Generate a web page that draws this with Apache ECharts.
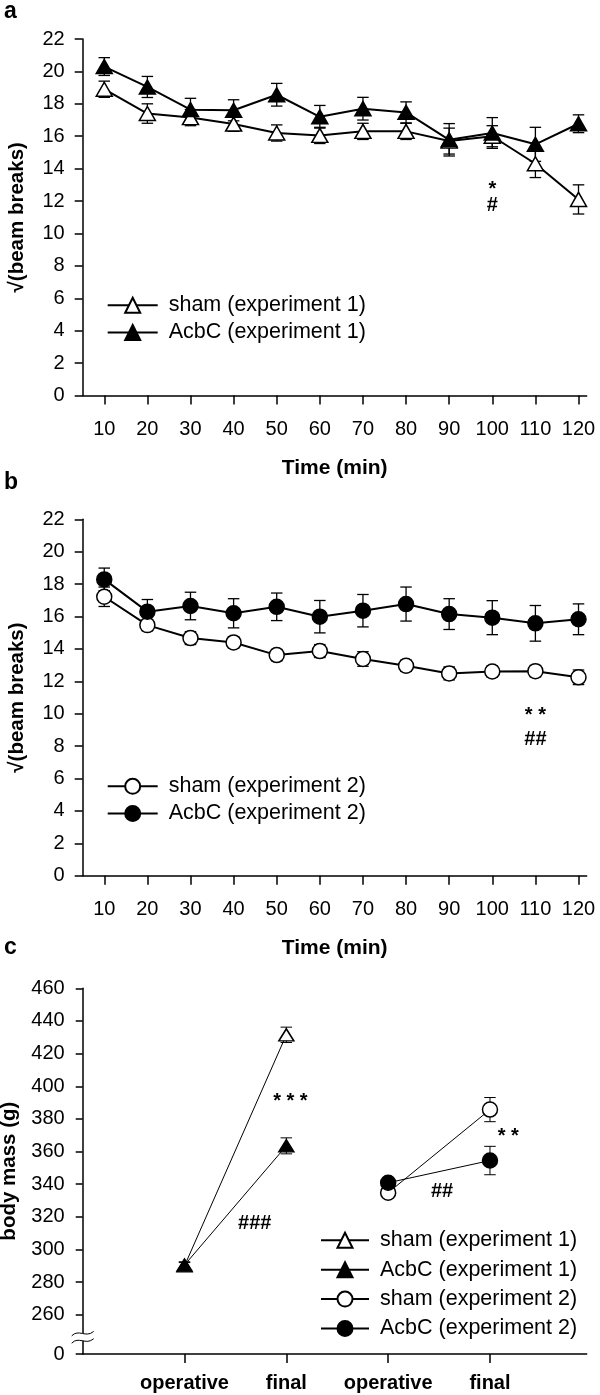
<!DOCTYPE html>
<html><head><meta charset="utf-8">
<script src="https://cdn.jsdelivr.net/npm/echarts@6/dist/echarts.min.js"></script>
<style>
html,body{margin:0;padding:0;background:#fff;}
body{width:600px;height:1395px;position:relative;overflow:hidden;}
.p{position:absolute;left:0;width:600px;}
</style></head><body>
<div id="pa" class="p" style="top:0;height:500px"></div>
<div id="pb" class="p" style="top:465px;height:510px"></div>
<div id="pc" class="p" style="top:930px;height:465px"></div>
<script>
// ---------- data ----------
const timeMin = [10, 20, 30, 40, 50, 60, 70, 80, 90, 100, 110, 120];

// panel a (experiment 1)
const shamExp1 = [18.9, 17.4, 17.15, 16.75, 16.2, 16.05, 16.3, 16.3, 15.7, 16.0, 14.3, 12.1];
const shamExp1Err = [0.5, 0.6, 0.5, 0.45, 0.5, 0.5, 0.5, 0.5, 0.8, 0.65, 0.85, 0.9];
const acbcExp1 = [20.3, 19.04, 17.64, 17.6, 18.56, 17.2, 17.7, 17.47, 15.78, 16.2, 15.5, 16.77];
const acbcExp1Err = [0.55, 0.65, 0.7, 0.65, 0.7, 0.7, 0.7, 0.65, 1.0, 0.95, 1.05, 0.55];
const annA_x = [100, 100];
const annA_y = [13.0, 11.7];
const annA_t = ['*', '#'];

// panel b (experiment 2)
const shamExp2 = [17.22, 15.47, 14.67, 14.4, 13.62, 13.87, 13.38, 12.96, 12.49, 12.61, 12.63, 12.25];
const shamExp2Err = [0.6, 0.35, 0.4, 0.35, 0.35, 0.4, 0.45, 0.35, 0.4, 0.35, 0.35, 0.45];
const acbcExp2 = [18.29, 16.3, 16.65, 16.2, 16.6, 15.99, 16.36, 16.77, 16.15, 15.93, 15.58, 15.83];
const acbcExp2Err = [0.7, 0.75, 0.85, 0.9, 0.85, 1.0, 1.0, 1.05, 0.95, 1.05, 1.1, 0.95];
const annB_x = [110, 110];
const annB_y = [10.2, 8.4];
const annB_t = ['* *', '##'];

// panel c (body mass)
const massCats = ['operative', 'final', 'operative', 'final'];
const massPosExp1 = [1, 2];
const massPosExp2 = [3, 4];
const massShamExp1 = [290, 431.5];
const massShamExp1Err = [2, 4.7];
const massAcbcExp1 = [290.5, 363.5];
const massAcbcExp1Err = [2, 4.9];
const massShamExp2 = [334.8, 385.7];
const massShamExp2Err = [1.5, 7.4];
const massAcbcExp2 = [340.9, 354.5];
const massAcbcExp2Err = [1.5, 8.7];
const massTicks = [236, 260, 280, 300, 320, 340, 360, 380, 400, 420, 440, 460];
const massBreakLabel = '0';
const annC_x = [2.04, 4.18, 1.69, 3.53];
const annC_y = [393.2, 371.8, 316, 335.8];
const annC_t = ['* * *', '* *', '###', '##'];

const seriesNames = ['sham (experiment 1)', 'AcbC (experiment 1)', 'sham (experiment 2)', 'AcbC (experiment 2)'];

// ---------- helpers ----------
const FONT = '"Liberation Sans", Arial, Helvetica, sans-serif';
const BLACK = '#000';

function errRender(hw, lw) {
  return function (params, api) {
    const x = api.value(0), m = api.value(1), e = api.value(2);
    const t = api.coord([x, m + e]), b = api.coord([x, m - e]);
    const st = { stroke: BLACK, lineWidth: lw };
    return { type: 'group', children: [
      { type: 'line', shape: { x1: t[0], y1: t[1], x2: b[0], y2: b[1] }, style: st },
      { type: 'line', shape: { x1: t[0] - hw, y1: t[1], x2: t[0] + hw, y2: t[1] }, style: st },
      { type: 'line', shape: { x1: b[0] - hw, y1: b[1], x2: b[0] + hw, y2: b[1] }, style: st }
    ]};
  };
}
function annSeries(xs, ys, ts) {
  return {
    type: 'custom', name: 'annotations', silent: true, z: 10,
    data: xs.map((x, i) => [x, ys[i]]),
    renderItem: function (params, api) {
      const p = api.coord([api.value(0), api.value(1)]);
      const txt = ts[params.dataIndex];
      const dy = txt.indexOf('*') >= 0 ? 4.5 : 0;
      return { type: 'text', x: p[0], y: p[1] + dy,
        style: { text: txt, font: 'bold 20px ' + FONT, fill: BLACK, align: 'center', verticalAlign: 'middle' } };
    }
  };
}
function errSeries(name, xs, means, errs, hw, lw) {
  return { type: 'custom', name: name, silent: true, z: 1,
    data: xs.map((x, i) => [x, means[i], errs[i]]),
    renderItem: errRender(hw, lw) };
}
function lineSeries(name, xs, vals, symbol, size, filled, lw, z) {
  return { type: 'line', name: name, data: xs.map((x, i) => [x, vals[i]]),
    symbol: symbol, symbolSize: size, showSymbol: true, z: z,
    lineStyle: { color: BLACK, width: lw },
    itemStyle: { color: filled ? BLACK : '#fff', borderColor: BLACK, borderWidth: 1.5 },
    emphasis: { disabled: true } };
}
function letterTitle(t, top) {
  return { text: t, left: 4, top: top, padding: 0,
    textStyle: { fontSize: 23, fontWeight: 'bold', color: BLACK, fontFamily: FONT } };
}
const axisLineStyle = { color: BLACK, width: 1.5 };
function legendCfg(names, left, top, itemWidth, gap) {
  return { data: names, orient: 'vertical', left: left, top: top, padding: 0,
    itemWidth: itemWidth, itemHeight: 18.75, itemGap: gap, selectedMode: false,
    formatter: n => ' ' + n,
    textStyle: { fontSize: 21.5, color: BLACK, fontFamily: FONT } };
}

function timePanel(domId, gridTop, letter, letterTop, names, data, symbols, sizes, ann, legendTop) {
  const chart = echarts.init(document.getElementById(domId));
  const series = [];
  data.forEach((d, i) => series.push(errSeries('err' + i, timeMin, d[0], d[1], 5.75, 1.3)));
  data.forEach((d, i) => series.push(lineSeries(names[i], timeMin, d[0], symbols[i], sizes[i], i === 1, 2, 3 + i)));
  series.push(annSeries(ann[0], ann[1], ann[2]));
  chart.setOption({
    animation: false,
    backgroundColor: 'transparent',
    title: letterTitle(letter, letterTop),
    grid: { left: 82.7, top: gridTop, width: 504, height: 356.5, outerBoundsMode: 'none', containLabel: false },
    legend: legendCfg(names, 106.7, legendTop, 50, 5.2),
    xAxis: {
      type: 'value', min: 5, max: 121.9,
      axisLine: { show: true, onZero: false, lineStyle: axisLineStyle },
      axisTick: { show: true, customValues: timeMin, length: 9, lineStyle: axisLineStyle },
      axisLabel: { customValues: timeMin, margin: 24, fontSize: 20, color: BLACK, fontFamily: FONT },
      splitLine: { show: false },
      name: 'Time (min)', nameLocation: 'middle', nameGap: 62,
      nameTextStyle: { fontSize: 21, fontWeight: 'bold', color: BLACK, fontFamily: FONT }
    },
    yAxis: {
      type: 'value', min: 0, max: 22, interval: 2,
      axisLine: { show: true, lineStyle: axisLineStyle },
      axisTick: { show: true, length: 8, lineStyle: axisLineStyle },
      axisLabel: { margin: 18, fontSize: 20, color: BLACK, fontFamily: FONT },
      splitLine: { show: false },
      name: '\u221A(beam breaks)', nameLocation: 'middle', nameGap: 55,
      nameTextStyle: { fontSize: 20.5, fontWeight: 'bold', color: BLACK, fontFamily: FONT }
    },
    series: series
  });
  return chart;
}

timePanel('pa', 39, 'a', 0, [seriesNames[0], seriesNames[1]],
  [[shamExp1, shamExp1Err], [acbcExp1, acbcExp1Err]],
  ['triangle', 'triangle'], [[16, 14], [16, 14]], [annA_x, annA_y, annA_t], 294.2);

timePanel('pb', 54.3, 'b', 6, [seriesNames[2], seriesNames[3]],
  [[shamExp2, shamExp2Err], [acbcExp2, acbcExp2Err]],
  ['circle', 'circle'], [15, 15], [annB_x, annB_y, annB_t], 310.3);

// ---------- panel c ----------
const chartC = echarts.init(document.getElementById('pc'));
const cMin = massTicks[0];
const cSeries = [
  errSeries('e1', massPosExp1, massShamExp1, massShamExp1Err, 5.75, 1),
  errSeries('e2', massPosExp1, massAcbcExp1, massAcbcExp1Err, 5.75, 1),
  errSeries('e3', massPosExp2, massShamExp2, massShamExp2Err, 5.75, 1),
  errSeries('e4', massPosExp2, massAcbcExp2, massAcbcExp2Err, 5.75, 1),
  lineSeries(seriesNames[0], massPosExp1, massShamExp1, 'triangle', [15, 12], false, 1, 3),
  lineSeries(seriesNames[1], massPosExp1, massAcbcExp1, 'triangle', [15, 12], true, 1, 4),
  lineSeries(seriesNames[2], massPosExp2, massShamExp2, 'circle', 15, false, 1, 5),
  lineSeries(seriesNames[3], massPosExp2, massAcbcExp2, 'circle', 15, true, 1, 6),
  annSeries(annC_x, annC_y, annC_t)
];
const catPos = massCats.map((c, i) => i + 1);
chartC.setOption({
  animation: false,
  backgroundColor: 'transparent',
  title: letterTitle('c', 6),
  grid: { left: 82.7, top: 58.3, width: 504, height: 365.7, outerBoundsMode: 'none', containLabel: false },
  legend: legendCfg(seriesNames, 320, 299.3, 48, 7.4),
  xAxis: {
    type: 'value', min: 0, max: 4.95,
    axisLine: { show: true, onZero: false, lineStyle: axisLineStyle },
    axisTick: { show: true, customValues: catPos, length: 9, lineStyle: axisLineStyle },
    axisLabel: { customValues: catPos, margin: 19, fontSize: 20, fontWeight: 'bold', color: BLACK, fontFamily: FONT,
      formatter: v => massCats[Math.round(v) - 1] },
    splitLine: { show: false }
  },
  yAxis: {
    type: 'value', min: cMin, max: 460,
    axisLine: { show: true, lineStyle: axisLineStyle },
    axisTick: { show: true, customValues: massTicks, length: 7, lineStyle: axisLineStyle },
    axisLabel: { customValues: massTicks, margin: 18, fontSize: 20, color: BLACK, fontFamily: FONT,
      formatter: v => (v === cMin ? massBreakLabel : String(v)) },
    splitLine: { show: false },
    name: 'body mass (g)', nameLocation: 'middle', nameGap: 63,
    nameTextStyle: { fontSize: 20.5, fontWeight: 'bold', color: BLACK, fontFamily: FONT }
  },
  series: cSeries
});
// axis-break marker on the y axis
const bp = chartC.convertToPixel({ gridIndex: 0 }, [0, cMin]);
const w1 = bp[1] - 20.6, w2 = bp[1] - 13.3;
function wave(y) {
  return { type: 'bezierCurve', z: 100,
    shape: { x1: bp[0] - 11, y1: y + 2.5, cpx1: bp[0] - 4, cpy1: y - 5, cpx2: bp[0] + 3, cpy2: y + 5, x2: bp[0] + 11, y2: y - 2 },
    style: { stroke: BLACK, lineWidth: 1, fill: null } };
}
chartC.setOption({ graphic: [
  { type: 'rect', z: 99, shape: { x: bp[0] - 3, y: w1, width: 6, height: w2 - w1 }, style: { fill: '#fff' } },
  wave(w1), wave(w2)
]});
</script>
</body></html>
